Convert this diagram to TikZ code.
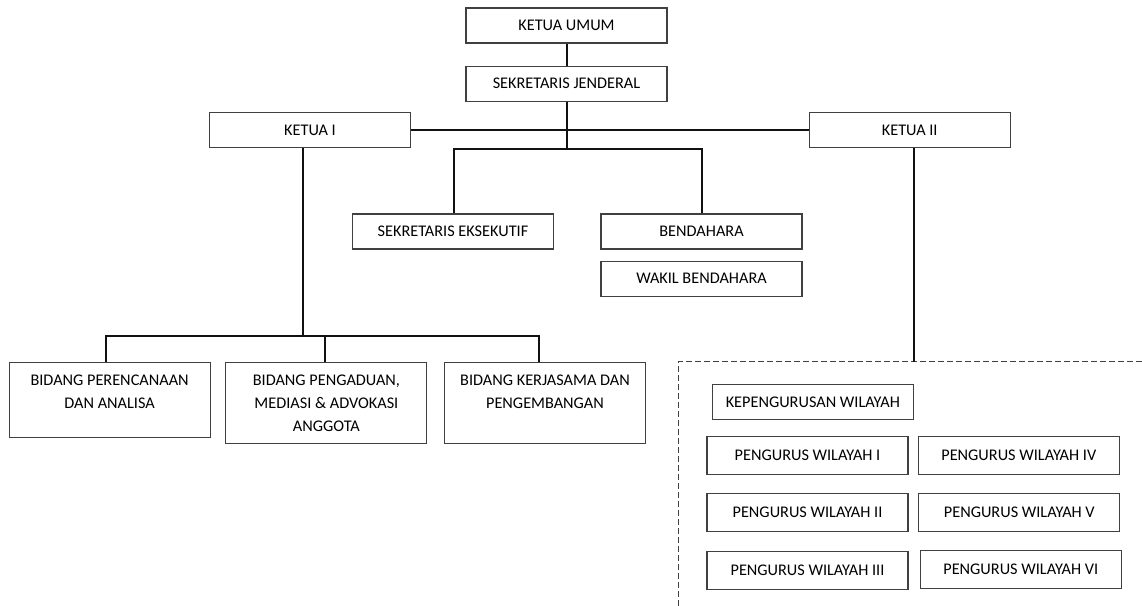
\documentclass[tikz,border=0pt]{standalone}
\usepackage{fontspec}
\setmainfont{Carlito}
\usetikzlibrary{positioning}
\definecolor{Garis}{HTML}{404040}
\definecolor{Hitam}{HTML}{111111}

\tikzset{
  kotak/.style={draw=Garis,line width=0.8pt,minimum width=150.75pt,minimum height=26.25pt,
    inner sep=0pt,font=\fontsize{12.2}{14}\selectfont},
  wilayah/.style={kotak,minimum height=28.75pt},
  bidang/.style={kotak,anchor=north,text width=150pt,align=flush center,text height=17.2pt,
    font=\fontsize{12.2}{17.25}\selectfont},
  hubung/.style={draw=Hitam,line width=1.5pt},
  bingkai/.style={draw=Garis,line width=0.8pt,dash pattern=on 4.5pt off 2.25pt},
}

\begin{document}
\begin{tikzpicture}[x=0.75pt,y=-0.75pt,node distance=16.5pt]
  \useasboundingbox (0,0) rectangle (1142,606);

  % pimpinan pusat
  \node[kotak] (ku) at (566.5,25.5) {KETUA UMUM};
  \node[kotak,below=of ku] (sj) {SEKRETARIS JENDERAL};
  \node[kotak] (ki) at (310,130.2) {KETUA I};
  \node[kotak] (kii) at (909.7,130.2) {KETUA II};
  \node[kotak] (se) at (453,231.5) {SEKRETARIS EKSEKUTIF};
  \node[kotak] (bend) at (701.5,231.5) {BENDAHARA};
  \node[kotak,below=8.25pt of bend] (wb) {WAKIL BENDAHARA};

  % bidang-bidang di bawah ketua I
  \node[bidang,text depth=38.6pt] (bpa) at (109.6,362.3) {BIDANG PERENCANAAN\\DAN ANALISA};
  \node[bidang,text depth=43.6pt] (bpm) at (326.4,362.3) {BIDANG PENGADUAN,\\MEDIASI \& ADVOKASI\\ANGGOTA};
  \node[bidang,text depth=43.6pt] (bkp) at (545,362.3) {BIDANG KERJASAMA DAN\\PENGEMBANGAN};

  % kepengurusan wilayah
  \coordinate (atas) at (678.3,361.7);
  \draw[bingkai] (1142,361.7) -- (atas) -- (678.3,606);
  \node[kotak] (kw) at (812.8,401.8) {KEPENGURUSAN WILAYAH};
  \node[wilayah] (pw1) at (807.5,455.7) {PENGURUS WILAYAH I};
  \node[wilayah] (pw2) at (807.5,512.7) {PENGURUS WILAYAH II};
  \node[wilayah] (pw3) at (807.5,570.5) {PENGURUS WILAYAH III};
  \node[wilayah] (pw4) at (1018.8,455.7) {PENGURUS WILAYAH IV};
  \node[wilayah] (pw5) at (1019.3,512.7) {PENGURUS WILAYAH V};
  \node[wilayah] (pw6) at (1020.8,569.5) {PENGURUS WILAYAH VI};

  % garis penghubung
  \coordinate (cabang) at (566.5,149);
  \coordinate (simpul) at (303.3,335.7);
  \draw[hubung] (ku) -- (sj);
  \draw[hubung] (ki) -- (kii);
  \draw[hubung] (sj.south) -- (cabang);
  \draw[hubung] ([xshift=0.75pt]se.north) |- (cabang) -| (bend.north);
  \draw[hubung] (ki.south -| simpul) -- (simpul);
  \draw[hubung] ([xshift=-2.7pt]bpa.north) |- (simpul) -| ([xshift=-4.5pt]bkp.north);
  \draw[hubung] ([xshift=-1pt]bpm.north) -- ([xshift=-1pt]bpm.north |- simpul);
  \draw[hubung] ([xshift=3.5pt]kii.south) -- ([xshift=3.5pt]kii.south |- atas);
\end{tikzpicture}
\end{document}
